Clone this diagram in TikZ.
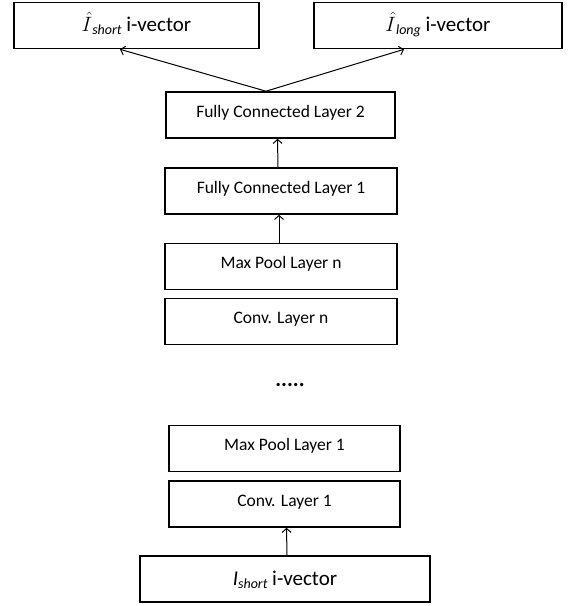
\documentclass[tikz,border=0pt]{standalone}
\usepackage{fontspec}
\setmainfont{Carlito}
\usepackage{tikz}
\usetikzlibrary{arrows.meta}

\tikzset{
  layer/.style={draw, line width=1.6pt, minimum height=46pt, inner sep=0pt,
    font=\fontsize{17.5}{20}\selectfont, text height=12pt, text depth=8pt},
  vec/.style={layer, font=\fontsize{21}{24}\selectfont, text height=14pt, text depth=2pt},
  arr/.style={line width=1pt, -{Straight Barb[length=4pt,width=9pt]}}
}
\newcommand{\subtxt}[1]{\raisebox{-3pt}{\textit{\fontsize{14}{16}\selectfont #1}}}

\begin{document}
\begin{tikzpicture}[x=1pt, y=-1pt]
    \useasboundingbox (0,0) rectangle (569,606);

    % Sorties
    \node[vec, minimum width=245pt] (sl) at (136.5,25.5) {$\hat{I}$\subtxt{short} i-vector};
    \node[vec, minimum width=248pt] (ll) at (438,25.5) {$\hat{I}$\subtxt{long} i-vector};

    % Couches
    \node[layer, minimum width=229pt] (fc2) at (280.5,115) {Fully Connected Layer 2};
    \node[layer, minimum width=232pt] (fc1) at (281,191) {Fully Connected Layer 1};
    \node[layer, minimum width=232pt] (mpn) at (281,266.5) {Max Pool Layer n};
    \node[layer, minimum width=232pt] (cvn) at (281,321.5) {Conv. Layer n};
    \node[font=\fontsize{22}{24}\selectfont\bfseries] (dots) at (290,385) {.....};
    \node[layer, minimum width=231pt] (mp1) at (284.5,448.5) {Max Pool Layer 1};
    \node[layer, minimum width=231pt] (cv1) at (284.5,504) {Conv. Layer 1};

    % Entree
    \node[vec, minimum width=290pt] (in) at (285,579) {\textit{I}\subtxt{short} i-vector};

    % Fleches
    \draw[arr] ([xshift=2pt]in.north) -- ([xshift=2pt]cv1.south);
    \draw[arr] ([xshift=-2pt]mpn.north) -- ([xshift=-2pt]fc1.south);
    \draw[arr] ([xshift=-3pt]fc1.north) -- ([xshift=-3pt]fc2.south);
    \draw[arr] ([xshift=-14.5pt]fc2.north) -- ([xshift=-16.5pt]sl.south);
    \draw[arr] ([xshift=-14.5pt]fc2.north) -- ([xshift=-34pt]ll.south);
\end{tikzpicture}
\end{document}
